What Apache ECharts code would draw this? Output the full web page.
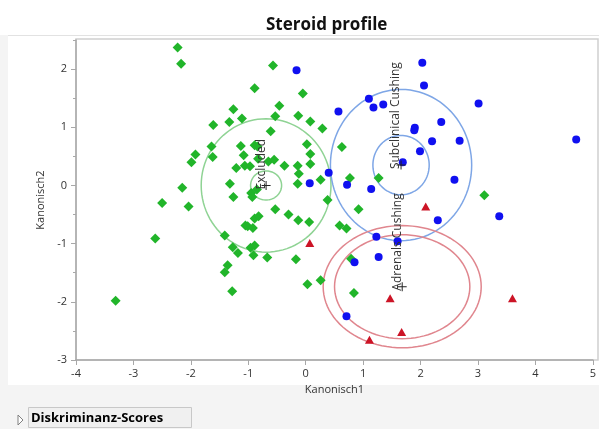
<!DOCTYPE html>
<html><head><meta charset="utf-8">
<script src="https://cdn.jsdelivr.net/npm/echarts@6/dist/echarts.min.js"></script>
<style>html,body{margin:0;padding:0;background:#fff}#c{width:599px;height:429px}</style>
</head><body><div id="c"></div><script>
const chartTitle = 'Steroid profile';
const xAxisName = 'Kanonisch1';
const yAxisName = 'Kanonisch2';
const xTicks = [-4,-3,-2,-1,0,1,2,3,4,5];
const yTicks = [-3,-2,-1,0,1,2];
const groupNames = ['Excluded','Subclinical Cushing','Adrenals Cushing'];

const excludedPts = [
 [-2.23,2.37],[-2.17,2.09],[-0.57,2.06],[-0.89,1.67],[-0.46,1.37],[-1.26,1.31],[-1.33,1.09],[-1.11,1.15],
 [-0.53,1.19],[-1.61,1.04],[-0.61,0.93],[-1.64,0.67],[-1.13,0.68],[-0.89,0.69],[-0.84,0.67],[-1.62,0.49],
 [-1.92,0.53],[-1.99,0.40],[-1.08,0.52],[-0.83,0.46],[-0.65,0.41],[-0.55,0.44],[-1.21,0.30],[-1.06,0.34],
 [-0.97,0.33],[-0.37,0.34],[-0.13,1.20],[-0.05,1.58],[0.08,1.10],[0.29,0.98],[-0.14,0.34],[-0.12,0.20],
 [-0.14,0.03],[0.02,0.71],[0.08,0.54],[0.08,0.37],[0.26,0.10],[0.63,0.66],[0.77,0.13],[1.27,0.13],
 [0.38,-0.25],[3.11,-0.17],[0.92,-0.41],[-2.15,-0.04],[-1.32,0.03],[-1.26,-0.20],[-0.95,-0.13],[-0.93,-0.20],
 [-0.85,-0.07],[-2.50,-0.30],[-2.04,-0.36],[-0.53,-0.41],[-0.30,-0.50],[-0.13,-0.60],[0.06,-0.63],[-1.05,-0.69],
 [-1.01,-0.70],[-0.92,-0.73],[-0.89,-0.57],[-0.82,-0.53],[-1.41,-0.86],[-2.62,-0.91],[-1.27,-1.06],[-1.18,-1.16],
 [-0.96,-1.07],[-0.89,-1.03],[-0.91,-1.20],[-0.67,-1.24],[-0.17,-1.27],[-1.36,-1.37],[-1.41,-1.49],[-1.28,-1.82],
 [-3.31,-1.98],[0.59,-0.69],[0.71,-0.74],[0.79,-1.26],[0.03,-1.70],[0.26,-1.63],[0.84,-1.85]
];
const subclinicalPts = [
 [-0.16,1.98],[2.03,2.11],[2.06,1.72],[3.01,1.41],[1.10,1.49],[1.18,1.34],[1.35,1.39],[0.57,1.27],
 [2.36,1.09],[1.90,0.99],[1.89,0.95],[2.20,0.76],[2.68,0.77],[4.71,0.79],[1.99,0.59],[1.69,0.40],
 [0.40,0.22],[0.07,0.04],[0.72,0.01],[1.14,-0.06],[2.59,0.10],[3.37,-0.53],[2.30,-0.60],[1.23,-0.88],
 [1.60,-0.96],[1.27,-1.23],[0.85,-1.32],[0.71,-2.25]
];
const adrenalPts = [
 [2.09,-0.36],[0.07,-0.99],[1.47,-1.94],[3.60,-1.94],[1.67,-2.52],[1.11,-2.65]
];
const groupCenters = [[-0.69,0.0],[1.66,0.35],[1.68,-1.74]];
const ellipseGroup = [0,0,1,1,2,2];
const ellipseRx = [1.13,0.27,1.23,0.49,1.376,1.178];
const ellipseRy = [1.146,0.25,1.30,0.51,1.05,0.893];

const markerColors = ['#21b52a','#1010f0','#cc1426'];
const ringColors = ['#8fd394','#7ea6e6','#e0868e'];
const FONT = 'Open Sans';

const ellipseData = ellipseGroup.map((g,i)=>[groupCenters[g][0],groupCenters[g][1],ellipseRx[i],ellipseRy[i],g]);
const labelData = groupCenters.map((c,i)=>[c[0],c[1],i]);

const chart = echarts.init(document.getElementById('c'), null, {renderer:'canvas'});
chart.setOption({
  animation:false,
  backgroundColor:'#ffffff',
  title:{text:chartTitle,left:261,top:12,textStyle:{fontFamily:FONT,fontSize:17,fontWeight:'bold',color:'#111'}},
  graphic:[
    {type:'rect',shape:{x:0,y:35,width:8,height:394},style:{fill:'#f4f4f4'},z:-10},
    {type:'rect',shape:{x:0,y:385,width:599,height:44},style:{fill:'#f4f4f4'},z:-10},
    {type:'line',shape:{x1:8,y1:35.5,x2:599,y2:35.5},style:{stroke:'#e2e2e2',lineWidth:1},z:-5},
    {type:'rect',shape:{x:76,y:39,width:522,height:321},style:{fill:null,stroke:'#d0d0d0',lineWidth:1.5},z:-5},
    {type:'rect',shape:{x:28.5,y:407.5,width:163,height:20},style:{fill:'#f0f0f0',stroke:'#c8c8c8',lineWidth:1},z:-4},
    {type:'polygon',shape:{points:[[18,415],[23,420],[18,425]]},style:{fill:'#fff',stroke:'#808080',lineWidth:1},z:-4},
    {type:'text',x:31,y:418,style:{text:'Diskriminanz-Scores',font:'bold 13px "Open Sans"',fill:'#000',verticalAlign:'middle'},z:-3}
  ],
  grid:{left:76,top:40,width:522,height:320,containLabel:false},
  xAxis:{type:'value',min:-4,max:5,interval:1,
    name:xAxisName,nameLocation:'middle',nameGap:24,
    nameTextStyle:{fontFamily:FONT,fontSize:11,color:'#333'},
    axisLine:{show:true,onZero:false,lineStyle:{color:'#a8a8a8',width:1.5}},
    axisTick:{show:true,length:5,lineStyle:{color:'#a8a8a8'},customValues:xTicks},
    axisLabel:{fontFamily:FONT,fontSize:11,color:'#333',margin:8,customValues:xTicks},
    splitLine:{show:false}},
  yAxis:[{type:'value',min:-3,max:2.5,interval:1,
    name:yAxisName,nameLocation:'middle',nameGap:29,
    nameTextStyle:{fontFamily:FONT,fontSize:11,color:'#333'},
    axisLine:{show:true,onZero:false,lineStyle:{color:'#a8a8a8',width:1.5}},
    axisTick:{show:true,length:5,lineStyle:{color:'#a8a8a8'},customValues:yTicks},
    axisLabel:{fontFamily:FONT,fontSize:11,color:'#333',margin:9,customValues:yTicks},
    splitLine:{show:false}},
   {type:'value',min:-3,max:2.5,interval:0.5,position:'left',offset:0,
    axisLine:{show:false,onZero:false},axisTick:{show:true,length:3,lineStyle:{color:'#a8a8a8'}},
    axisLabel:{show:false},splitLine:{show:false}}],
  series:[
    {type:'custom',coordinateSystem:'cartesian2d',data:ellipseData,z:1,silent:true,
     renderItem:(params,api)=>{
       const cx=api.value(0),cy=api.value(1),rx=api.value(2),ry=api.value(3),g=api.value(4);
       const pts=[];
       for(let i=0;i<=96;i++){const t=i/96*2*Math.PI;pts.push(api.coord([cx+rx*Math.cos(t),cy+ry*Math.sin(t)]));}
       return {type:'polyline',shape:{points:pts},style:{stroke:ringColors[g],fill:null,lineWidth:1.5}};
     }},
    {type:'scatter',name:groupNames[0],data:excludedPts,symbol:'path://M5,0L10,5L5,10L0,5Z',symbolSize:10,
     itemStyle:{color:markerColors[0],opacity:1},z:3},
    {type:'scatter',name:groupNames[1],data:subclinicalPts,symbol:'circle',symbolSize:8,
     itemStyle:{color:markerColors[1],opacity:1},z:3},
    {type:'scatter',name:groupNames[2],data:adrenalPts,symbol:'triangle',symbolSize:[9,8],
     itemStyle:{color:markerColors[2],opacity:1},z:3},
    {type:'scatter',data:groupCenters,symbol:'path://M4,0h1v9h-1z M0,4h9v1h-9z',symbolSize:9,
     itemStyle:{color:'#222',opacity:1},z:5},
    {type:'custom',coordinateSystem:'cartesian2d',data:labelData,z:6,silent:true,
     renderItem:(params,api)=>{
       const p=api.coord([api.value(0),api.value(1)]);
       return {type:'text',x:p[0]+1,y:p[1]+4,rotation:Math.PI/2,
         style:{text:groupNames[api.value(2)],fill:'#333',font:'12px "Open Sans"',align:'left',verticalAlign:'bottom'}};
     }}
  ]
});
</script></body></html>
